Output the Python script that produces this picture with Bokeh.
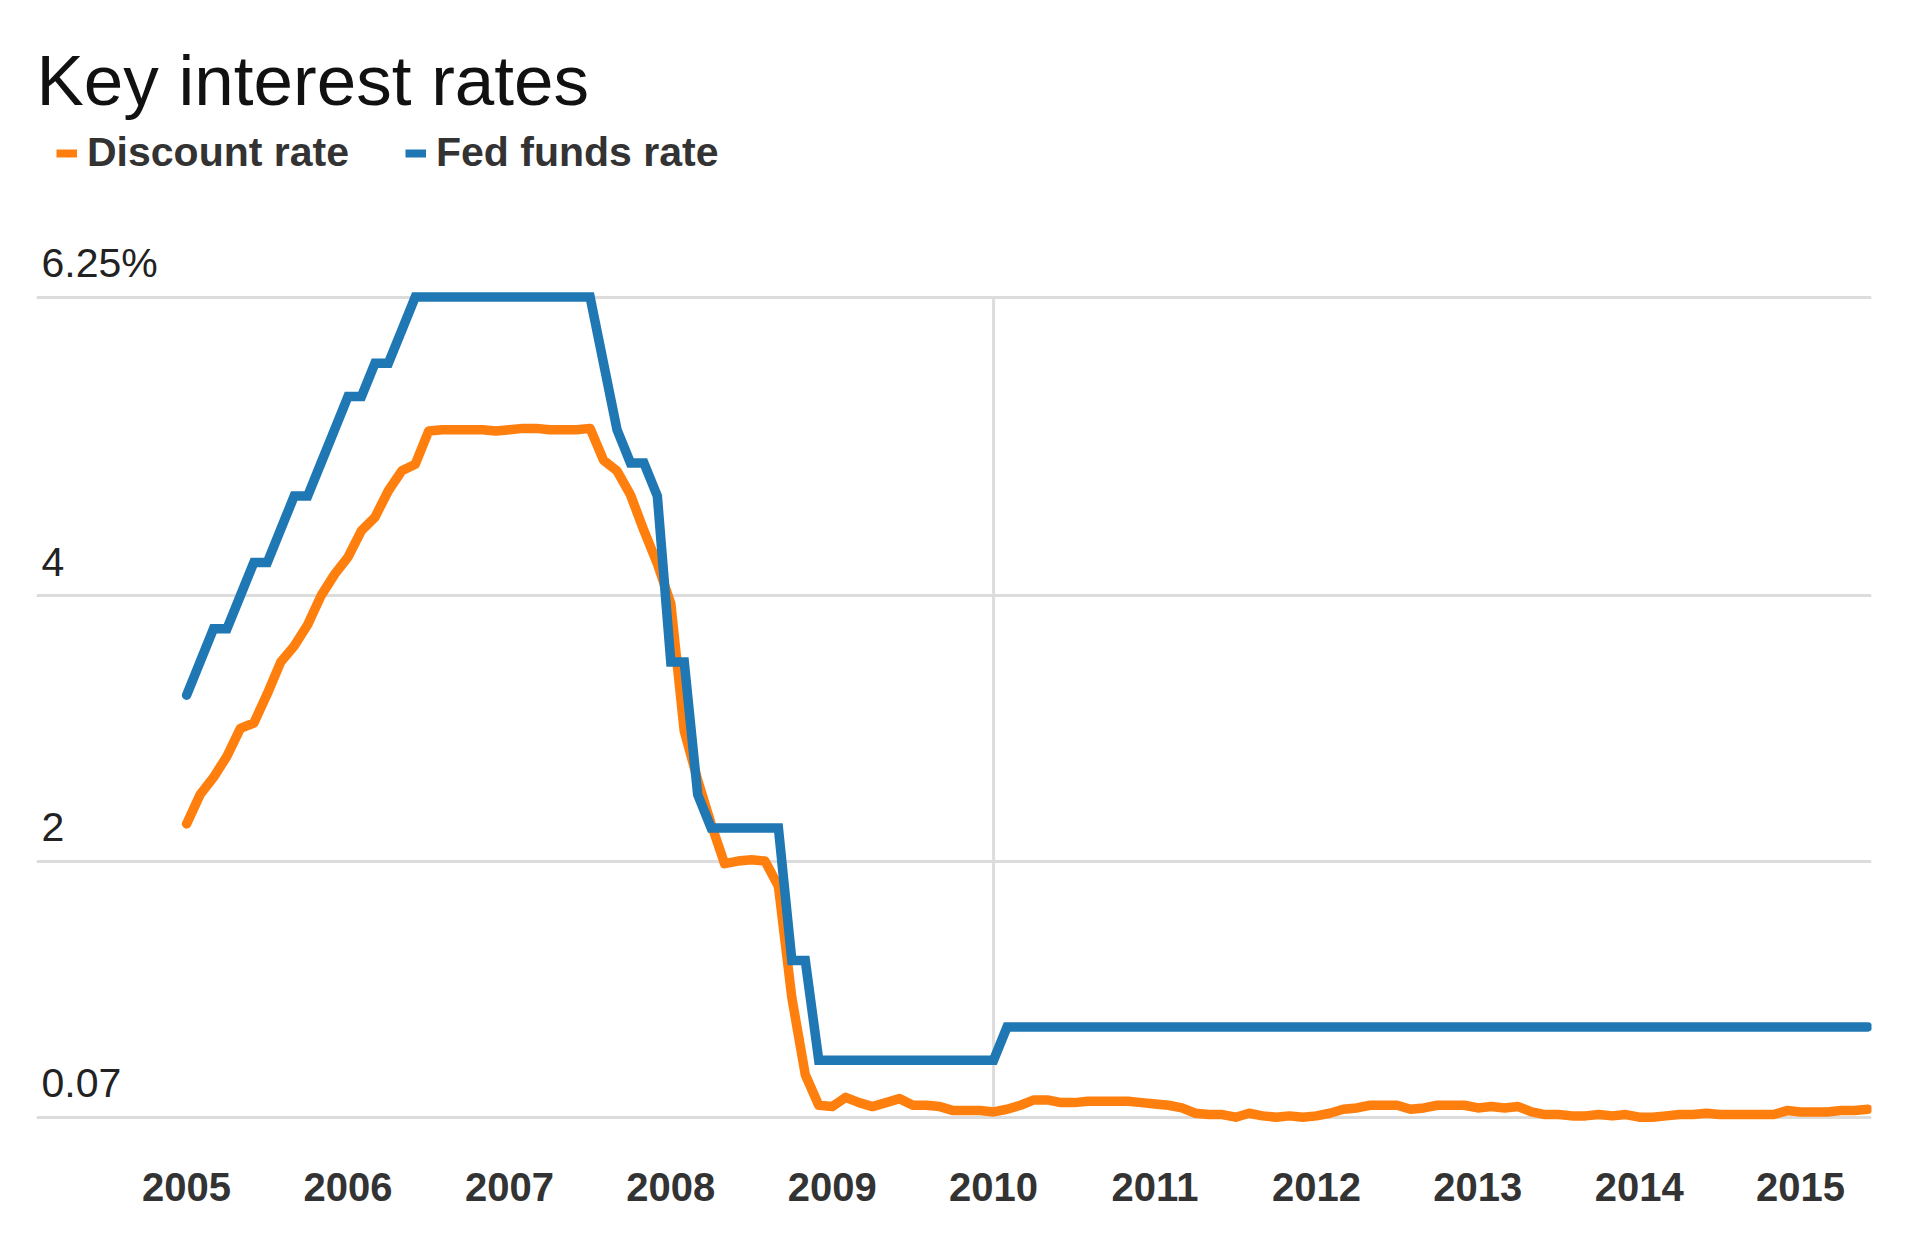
import pandas as pd
from bokeh.plotting import figure
from bokeh.models import Range1d, FixedTicker, Grid, Label, Legend, LegendItem, ColumnDataSource
from bokeh.embed import file_html
from bokeh.resources import INLINE
from bokeh.core.properties import value

# ---------------- data ----------------
title_text = "Key interest rates"
first_month = "2005-01"

# orange series (monthly, Jan 2005 - Jun 2015)
discount_rate = [
    2.28, 2.50, 2.63, 2.79, 3.00, 3.04, 3.26, 3.50, 3.62, 3.78, 4.00, 4.16,
    4.29, 4.49, 4.59, 4.79, 4.94, 4.99, 5.24, 5.25, 5.25, 5.25, 5.25, 5.24,
    5.25, 5.26, 5.26, 5.25, 5.25, 5.25, 5.26, 5.02, 4.94, 4.76, 4.49, 4.24,
    3.94, 2.98, 2.61, 2.28, 1.98, 2.00, 2.01, 2.00, 1.81, 0.97, 0.39, 0.16,
    0.15, 0.22, 0.18, 0.15, 0.18, 0.21, 0.16, 0.16, 0.15, 0.12, 0.12, 0.12,
    0.11, 0.13, 0.16, 0.20, 0.20, 0.18, 0.18, 0.19, 0.19, 0.19, 0.19, 0.18,
    0.17, 0.16, 0.14, 0.10, 0.09, 0.09, 0.07, 0.10, 0.08, 0.07, 0.08, 0.07,
    0.08, 0.10, 0.13, 0.14, 0.16, 0.16, 0.16, 0.13, 0.14, 0.16, 0.16, 0.16,
    0.14, 0.15, 0.14, 0.15, 0.11, 0.09, 0.09, 0.08, 0.08, 0.09, 0.08, 0.09,
    0.07, 0.07, 0.08, 0.09, 0.09, 0.10, 0.09, 0.09, 0.09, 0.09, 0.09, 0.12,
    0.11, 0.11, 0.11, 0.12, 0.12, 0.13,
]

# blue series (monthly, Jan 2005 - Jun 2015)
fed_funds_rate = [
    3.25, 3.50, 3.75, 3.75, 4.00, 4.25, 4.25, 4.50, 4.75, 4.75, 5.00, 5.25,
    5.50, 5.50, 5.75, 5.75, 6.00, 6.25, 6.25, 6.25, 6.25, 6.25, 6.25, 6.25,
    6.25, 6.25, 6.25, 6.25, 6.25, 6.25, 6.25, 5.75, 5.25, 5.00, 5.00, 4.75,
    3.50, 3.50, 2.50, 2.25, 2.25, 2.25, 2.25, 2.25, 2.25, 1.25, 1.25, 0.50,
    0.50, 0.50, 0.50, 0.50, 0.50, 0.50, 0.50, 0.50, 0.50, 0.50, 0.50, 0.50,
    0.50, 0.75, 0.75, 0.75, 0.75, 0.75, 0.75, 0.75, 0.75, 0.75, 0.75, 0.75,
    0.75, 0.75, 0.75, 0.75, 0.75, 0.75, 0.75, 0.75, 0.75, 0.75, 0.75, 0.75,
    0.75, 0.75, 0.75, 0.75, 0.75, 0.75, 0.75, 0.75, 0.75, 0.75, 0.75, 0.75,
    0.75, 0.75, 0.75, 0.75, 0.75, 0.75, 0.75, 0.75, 0.75, 0.75, 0.75, 0.75,
    0.75, 0.75, 0.75, 0.75, 0.75, 0.75, 0.75, 0.75, 0.75, 0.75, 0.75, 0.75,
    0.75, 0.75, 0.75, 0.75, 0.75, 0.75,
]

series_labels = ["Discount rate", "Fed funds rate"]
series_colors = ["#ff7f0e", "#1f77b4"]

year_ticks = [2005, 2006, 2007, 2008, 2009, 2010, 2011, 2012, 2013, 2014, 2015]
year_labels = ["2005", "2006", "2007", "2008", "2009", "2010",
               "2011", "2012", "2013", "2014", "2015"]
y_ticks = [0.07, 2, 4, 6.25]
y_tick_labels = ["0.07", "2", "4", "6.25%"]
highlight_year = 2010

# ---------------- layout ----------------
W, H = 1904, 1226
FRAME_L, FRAME_R, FRAME_T, FRAME_B = 36, 1871, 0, 1128
PX_PER_YEAR = 161.4
X0_PX = 186.1            # canvas x of Jan 2005
PX_PER_UNIT = 132.72
Y625_PX = 296.5          # canvas y of 6.25

X_START = 2005 - (X0_PX - FRAME_L) / PX_PER_YEAR
X_END = 2005 + (FRAME_R - X0_PX) / PX_PER_YEAR
Y_END = 6.25 + (Y625_PX - FRAME_T) / PX_PER_UNIT
Y_START = 6.25 - (FRAME_B - Y625_PX) / PX_PER_UNIT

periods = pd.period_range(first_month, periods=len(discount_rate), freq="M")
months_x = list(periods.year + (periods.month - 1) / 12.0)

p = figure(width=W, height=H, output_backend="svg", toolbar_location=None,
           x_range=Range1d(X_START, X_END), y_range=Range1d(Y_START, Y_END),
           y_axis_location=None,
           min_border_left=FRAME_L, min_border_right=W - FRAME_R,
           min_border_top=FRAME_T, min_border_bottom=H - FRAME_B)
p.outline_line_color = None
p.background_fill_color = "white"
p.border_fill_color = "white"
for g in p.xgrid:
    g.visible = False
for g in p.ygrid:
    g.visible = False

grid_color = "#dcdcdc"
ygrid = Grid(dimension=1, ticker=FixedTicker(ticks=y_ticks),
             grid_line_color=grid_color, grid_line_width=3)
p.add_layout(ygrid)

# x axis
ax = p.xaxis[0]
ax.ticker = FixedTicker(ticks=year_ticks)
ax.major_label_overrides = {t: l for t, l in zip(year_ticks, year_labels)}
ax.axis_line_color = None
ax.major_tick_line_color = None
ax.minor_tick_line_color = None
ax.major_tick_out = 0
ax.major_tick_in = 0
ax.major_label_standoff = 44
ax.major_label_text_font = "Liberation Sans"
ax.major_label_text_font_size = "40px"
ax.major_label_text_font_style = "bold"
ax.major_label_text_color = "#333333"

# vertical rule at 2010
p.segment(x0=[highlight_year], y0=[min(y_ticks)], x1=[highlight_year], y1=[max(y_ticks)],
          line_color=grid_color, line_width=3)

# y tick labels above their grid lines
p.text(x=[X_START] * len(y_ticks), y=y_ticks, text=y_tick_labels,
       x_offset=5, y_offset=-34, text_baseline="alphabetic", text_align="left",
       text_font=value("Liberation Sans"), text_font_size="41px", text_color="#222222")

src = ColumnDataSource(dict(x=months_x, d=discount_rate, f=fed_funds_rate))
p.line("x", "d", source=src, line_color=series_colors[0], line_width=9.5,
       line_join="round", line_cap="round")
p.line("x", "f", source=src, line_color=series_colors[1], line_width=9.5,
       line_join="miter", line_cap="round")

# legend swatches (butt-capped dashes, nothing drawn in the plot)
nan = float("nan")
leg_o = p.line(x=[nan], y=[nan], line_color=series_colors[0], line_width=8, line_cap="butt")
leg_b = p.line(x=[nan], y=[nan], line_color=series_colors[1], line_width=8, line_cap="butt")
legend = Legend(items=[LegendItem(label=series_labels[0], renderers=[leg_o]),
                       LegendItem(label=series_labels[1], renderers=[leg_b])],
                orientation="horizontal", location=(20, 951.7),
                glyph_width=21, glyph_height=46, label_height=46,
                label_standoff=10, spacing=56, padding=0, margin=0,
                border_line_color=None, background_fill_alpha=0,
                label_text_font="Liberation Sans", label_text_font_size="41px",
                label_text_font_style="bold", label_text_color="#333333")
p.add_layout(legend)

TITLE_Y = Y_END - (80.0 - FRAME_T) / PX_PER_UNIT
p.add_layout(Label(x=X_START, y=TITLE_Y, text=title_text, text_baseline="alphabetic",
                   text_align="left", text_font="Liberation Sans", text_font_size="71px",
                   text_color="#111111"))

open("out.html", "w").write(file_html(p, INLINE))
